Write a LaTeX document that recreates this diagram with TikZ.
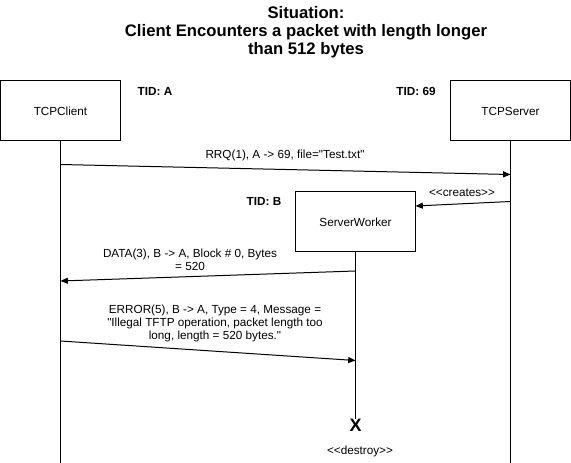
\documentclass[tikz,border=0pt]{standalone}
\usepackage{fontspec}
\setmainfont{Liberation Sans}[Ligatures=TeXOff]
\usetikzlibrary{arrows.meta}
\begin{document}
\begin{tikzpicture}[x=0.75pt,y=-0.75pt,
  every node/.style={font=\fontsize{8.8}{10}\selectfont, inner sep=0pt},
  actor/.style={draw, line width=0.75pt, minimum width=90pt, minimum height=45pt},
  tid/.style={font=\fontsize{8.8}{10}\selectfont\bfseries},
  life/.style={line width=0.75pt},
  msg/.style={line width=0.75pt, -{Triangle[length=5.5pt,width=4.5pt]}},
  lbl/.style={align=center}]
\useasboundingbox (0,0) rectangle (571,463);
% title
\node[align=center, font=\fontsize{12.5}{13.6}\selectfont\bfseries] (title) at (306,32)
  {Situation:\\Client Encounters a packet with length longer\\than 512 bytes};
% actors
\node[actor] (client) at (60.5,111) {TCPClient};
\node[actor] (server) at (510.5,111) {TCPServer};
\node[actor] (worker) at (355.5,222) {ServerWorker};
\node[tid] (tidA) at (155,91) {TID: A};
\node[tid] (tid69) at (416,91) {TID: 69};
\node[tid] (tidB) at (264,201) {TID: B};
% lifeline ends
\coordinate (cEnd) at (60.5,463);
\coordinate (sEnd) at (510.5,463);
\node[font=\fontsize{13.5}{14}\selectfont\bfseries] (x) at (355.5,425) {X};
\draw[life] (client.south) -- (cEnd);
\draw[life] (server.south) -- (sEnd);
\draw[life] (worker.south) -- (x.north);
\node (destroy) at (360,451) {<<destroy>>};
% message endpoints
\coordinate (m1s) at (60.5,164.5);
\coordinate (m1e) at (510.5,174.5);
\coordinate (m2s) at (510.5,201.5);
\coordinate (m2e) at (415.5,206);
\coordinate (m3s) at (355.5,271);
\coordinate (m3e) at (60.5,281);
\coordinate (m4s) at (60.5,341);
\coordinate (m4e) at (355.5,360.5);
\draw[msg] (m1s) -- (m1e);
\draw[msg] (m2s) -- (m2e);
\draw[msg] (m3s) -- (m3e);
\draw[msg] (m4s) -- (m4e);
% labels
\node[lbl] (l1) at (285,155) {RRQ(1), A -> 69, file="Test.txt"};
\node[lbl] (l2) at (462,192.5) {<<creates>>};
\node[lbl] (l3) at (190,260) {DATA(3), B -> A, Block \# 0, Bytes\\= 520};
\node[lbl] (l4) at (215,323.5) {ERROR(5), B -> A, Type = 4, Message =\\"Illegal TFTP operation, packet length too\\long, length = 520 bytes."};
\end{tikzpicture}
\end{document}
